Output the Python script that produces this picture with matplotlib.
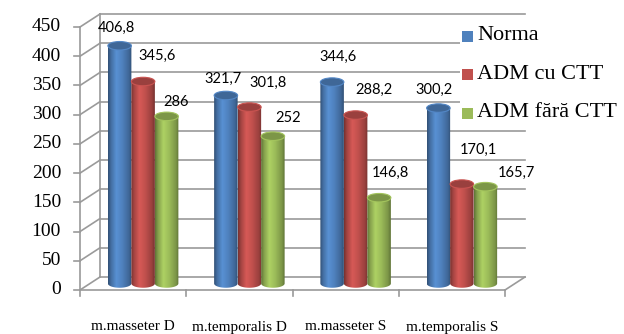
import numpy as np
import matplotlib.pyplot as plt
from matplotlib.patches import Polygon, Ellipse, Rectangle

categories = ["m.masseter D", "m.temporalis D", "m.masseter S", "m.temporalis S"]
series = ["Norma", "ADM cu CTT", "ADM fără CTT"]
norma = [406.8, 321.7, 344.6, 300.2]
adm_cu = [345.6, 301.8, 288.2, 170.1]
adm_fara = [286, 252, 146.8, 165.7]
labels = [["406,8", "321,7", "344,6", "300,2"],
          ["345,6", "301,8", "288,2", "170,1"],
          ["286", "252", "146,8", "165,7"]]
yticks = [0, 50, 100, 150, 200, 250, 300, 350, 400, 450]

values = [norma, adm_cu, adm_fara]
colors = ["#4F81BD", "#C0504D", "#9BBB59"]

# label offsets in pixels (right, up) from the top of each cylinder
label_off = [[(-3, 18), (-3, 17), (6, 25), (-4, 18)],
             [(14, 26), (19, 24), (18, 25), (17, 34)],
             [(9, 14), (15, 18), (11, 25), (31, 14)]]

W, H = 624, 334
fig = plt.figure(figsize=(W / 100, H / 100), dpi=100)
ax = fig.add_axes([0, 0, 1, 1])
px_x = 106.25          # pixels per category
px_y = 263 / 450       # pixels per value unit
x0, y0 = 80, 290       # pixel position of origin (from top)
ax.set_xlim(-x0 / px_x, (W - x0) / px_x)
ax.set_ylim((y0 - H) / px_y, y0 / px_y)
ax.axis("off")

ddx, ddy = 20 / px_x, 13 / px_y   # depth of the 3D box
grid_c = "#9a9a9a"
n = len(categories)

# walls
for v in yticks:
    ax.plot([ddx, n + ddx], [v + ddy, v + ddy], color=grid_c, lw=1.2, zorder=1)
    ax.plot([0, ddx], [v, v + ddy], color=grid_c, lw=1.2, zorder=1)
    ax.plot([-6 / px_x, 0], [v, v], color=grid_c, lw=1.2, zorder=1)
ax.plot([ddx, ddx], [ddy, 450 + ddy], color=grid_c, lw=1.2, zorder=1)
ax.plot([0, 0], [0, 450], color=grid_c, lw=1.2, zorder=1)
ax.plot([0, n], [0, 0], color=grid_c, lw=1.2, zorder=1)
ax.plot([n, n + ddx], [0, ddy], color=grid_c, lw=1.2, zorder=1)
for i in range(n + 1):
    ax.plot([i, i], [0, -6 / px_y], color=grid_c, lw=1.2, zorder=1)

for v in yticks:
    ax.text(-19 / px_x, v, str(v), ha="right", va="center",
            family="Liberation Serif", fontsize=14, color="black")
for i, c in enumerate(categories):
    ax.text(i + 0.5, -(327 - y0) / px_y, c, ha="center", va="center",
            family="Liberation Serif", fontsize=11, color="black")

# cylinders
bw = 23.5 / px_x
eh = 8.5 / px_y
t = np.linspace(0, 1, 64)
shade = np.interp(t, [0, 0.12, 0.35, 0.6, 0.88, 1], [0.62, 0.85, 1.12, 1.0, 0.8, 0.62])
xs_base = np.arange(n) + 0.5 + ddx / 2
for j, (vals, col) in enumerate(zip(values, colors)):
    rgb = np.array(plt.matplotlib.colors.to_rgb(col))
    grad = np.clip(rgb[None, :] * shade[:, None], 0, 1)[None, :, :]
    bars = ax.bar(xs_base + (j - 1) * bw, vals, width=bw, bottom=ddy / 2,
                  color=col, edgecolor="none", zorder=2)
    for i, b in enumerate(bars):
        bx, by, w, h = b.get_x(), b.get_y(), b.get_width(), b.get_height()
        b.set_visible(False)
        th = np.linspace(np.pi, 2 * np.pi, 40)
        arc = np.column_stack([bx + w / 2 + w / 2 * np.cos(th), by + eh / 2 * np.sin(th)])
        verts = np.vstack([[[bx, by + h]], arc, [[bx + w, by + h]]])
        poly = Polygon(verts, closed=True, facecolor="none", edgecolor="none")
        ax.add_patch(poly)
        im = ax.imshow(grad, extent=[bx, bx + w, by - eh, by + h], aspect="auto",
                       zorder=2 + i * 0.01, interpolation="bilinear")
        im.set_clip_path(poly)
        top = Ellipse((bx + w / 2, by + h), w, eh, facecolor=rgb * 0.8,
                      edgecolor=np.clip(rgb * 1.05, 0, 1), lw=0.8, zorder=2.5)
        ax.add_patch(top)
        dx, dy = label_off[j][i]
        ax.annotate(labels[j][i], (bx + w / 2, by + h), xytext=(dx, dy),
                    textcoords="offset pixels", ha="center", va="center",
                    family="Lato", fontsize=10.5, color="black", zorder=5)

# legend (white box hides the gridlines behind it)
fig.patches.append(Rectangle((460 / W, 1 - 124 / H), (W - 460) / W, 102 / H,
                             transform=fig.transFigure, facecolor="white",
                             edgecolor="none", zorder=3))
for j, (s, col) in enumerate(zip(series, colors)):
    yp = 36 + j * 38.5
    fig.patches.append(Rectangle((462 / W, 1 - (yp + 5.5) / H), 11 / W, 11 / H,
                                 transform=fig.transFigure, facecolor=col,
                                 edgecolor="none", zorder=4))
    fig.text(477 / W, 1 - yp / H, s, ha="left", va="center",
             family="Liberation Serif", fontsize=16, color="black", zorder=5)

fig.savefig("out.png", dpi=100)
